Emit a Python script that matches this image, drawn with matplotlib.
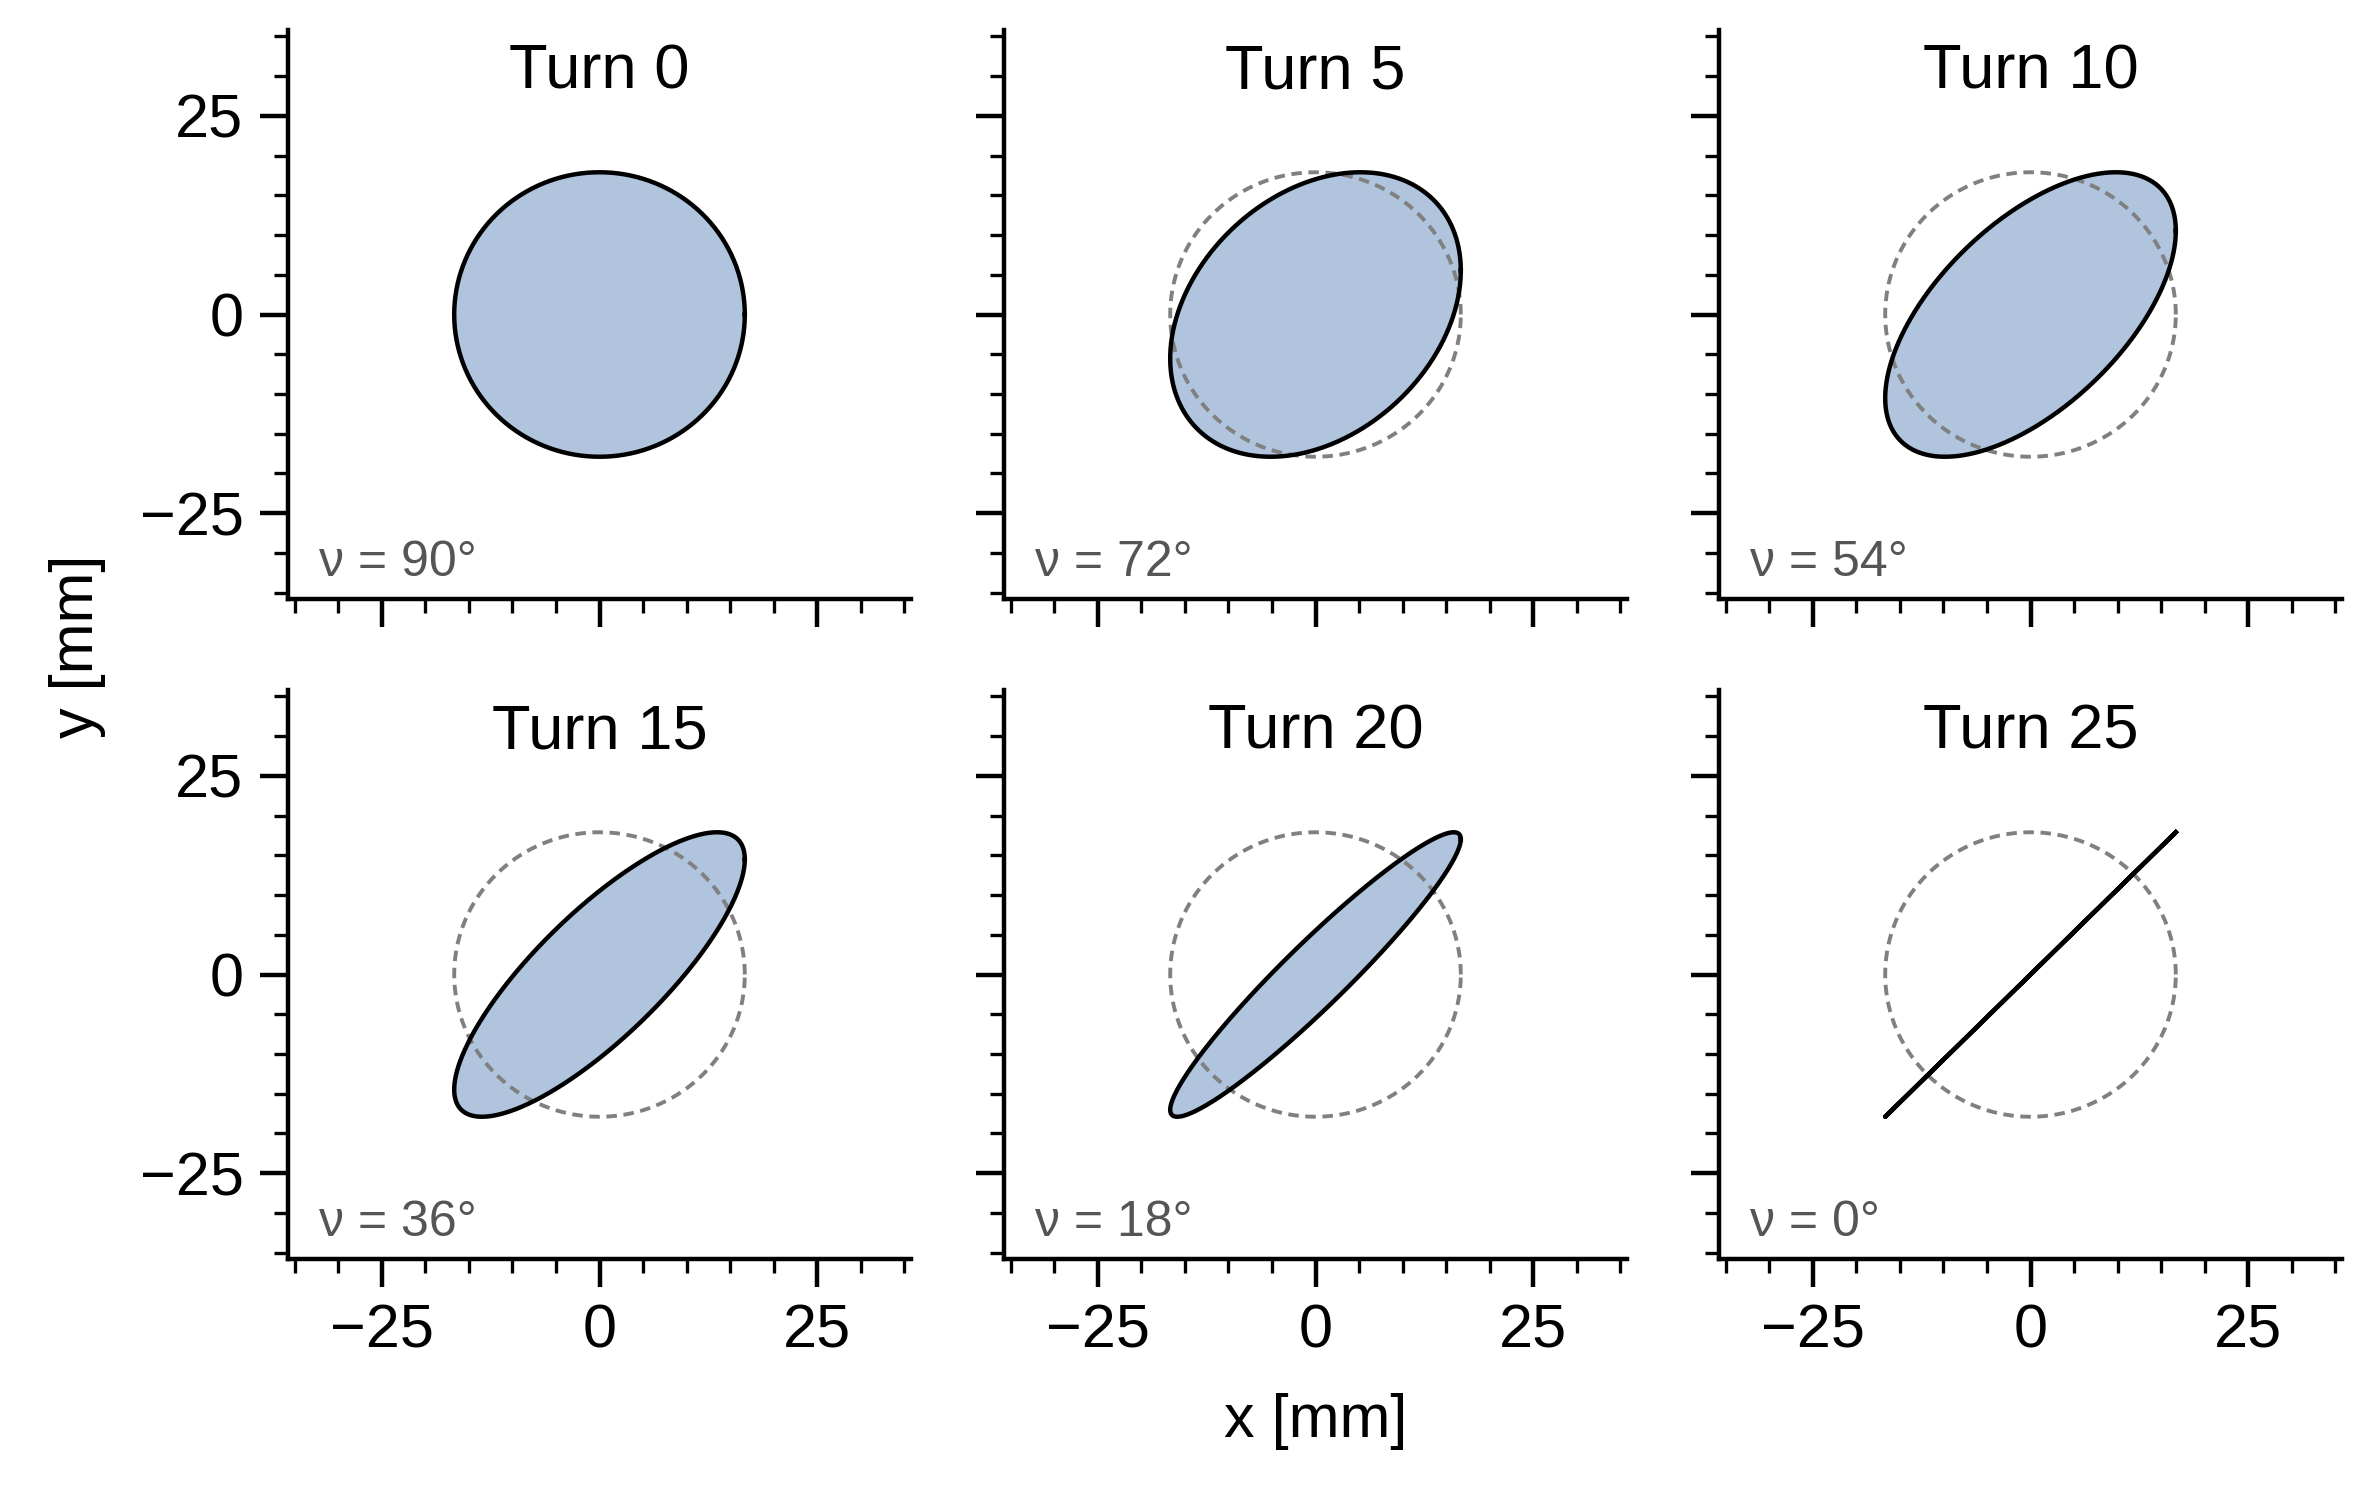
import numpy as np
import matplotlib
matplotlib.use("Agg")
import matplotlib.pyplot as plt
from matplotlib.ticker import MultipleLocator

# ---- data ----
turns = [0, 5, 10, 15, 20, 25]
nu_deg = [90, 72, 54, 36, 18, 0]
amp_x = 16.7   # mm
amp_y = 17.9   # mm
lim = 35.8
x_label = "x [mm]"
y_label = "y [mm]"

plt.rcParams['font.family'] = ['Liberation Sans', 'DejaVu Sans']
plt.rcParams['axes.unicode_minus'] = True

W, H = 2375, 1500
fig = plt.figure(figsize=(W / 400, H / 400), dpi=400)

lefts = [288, 1004, 1719]
tops = [30, 690]
aw, ah = 623, 569

phase = np.linspace(0, 2 * np.pi, 721)
ref_x = amp_x * np.cos(phase)
ref_y = amp_y * np.cos(phase - np.deg2rad(90))

for i, (turn, nu) in enumerate(zip(turns, nu_deg)):
    r, c = divmod(i, 3)
    ax = fig.add_axes([lefts[c] / W, 1 - (tops[r] + ah) / H, aw / W, ah / H])
    ex = amp_x * np.cos(phase)
    ey = amp_y * np.cos(phase - np.deg2rad(nu))
    if nu > 0:
        ax.fill(ex, ey, facecolor='lightsteelblue', edgecolor='none', zorder=1)
    if i > 0:
        ax.plot(ref_x, ref_y, color='#808080', lw=0.7, dashes=[2.7, 1.7], zorder=2)
    ax.plot(ex, ey, color='black', lw=0.8, zorder=3)

    ax.set_xlim(-lim, lim)
    ax.set_ylim(-lim, lim)
    ax.xaxis.set_major_locator(MultipleLocator(25))
    ax.yaxis.set_major_locator(MultipleLocator(25))
    ax.xaxis.set_minor_locator(MultipleLocator(5))
    ax.yaxis.set_minor_locator(MultipleLocator(5))
    for s in ['top', 'right']:
        ax.spines[s].set_visible(False)
    for s in ['left', 'bottom']:
        ax.spines[s].set_linewidth(0.8)
    ax.tick_params(which='major', length=5, width=0.8, labelsize=11, pad=3)
    ax.tick_params(which='minor', length=2.5, width=0.6)
    if c != 0:
        ax.tick_params(labelleft=False)
    if r != 1:
        ax.tick_params(labelbottom=False)

    ax.text(0.5, 0.897, f"Turn {turn}", transform=ax.transAxes, ha='center',
            va='baseline', fontsize=11.4)
    ax.text(0.05, 0.04, f"ν = {nu}°", transform=ax.transAxes, ha='left',
            va='baseline', fontsize=9, color='#555555')

fig.text(1315.5 / W, 1 - 1421 / H, x_label, ha='center', va='center', fontsize=11)
fig.text(78 / W, 1 - 646 / H, y_label, ha='center', va='center', fontsize=11,
         rotation=90)

fig.savefig("out.png", dpi=400)
